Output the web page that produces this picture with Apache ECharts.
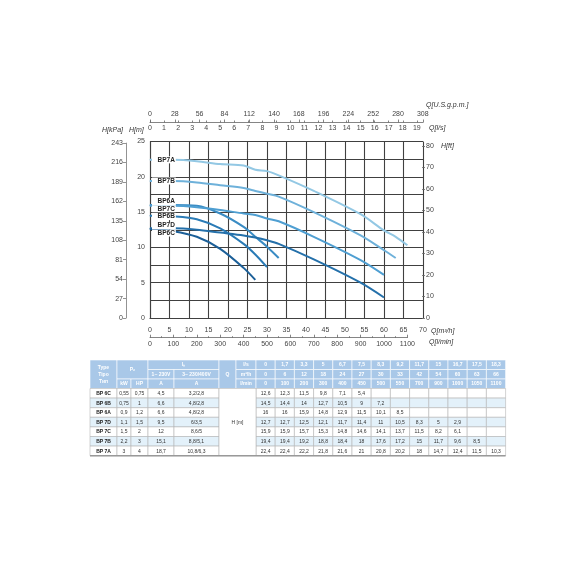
<!DOCTYPE html>
<html><head><meta charset="utf-8">
<script src="https://cdn.jsdelivr.net/npm/echarts@6/dist/echarts.min.js"></script>
<style>html,body{margin:0;padding:0;background:#fff}#c{width:570px;height:570px}</style>
</head><body><div id="c"></div>
<script>
// ---------- data ----------
const flowM3h = [0, 6, 12, 18, 24, 27, 30, 33, 42, 54, 60, 63, 66];
const flowLs = ['0', '1,7', '3,3', '5', '6,7', '7,5', '8,3', '9,2', '11,7', '15', '16,7', '17,5', '18,3'];
const flowLmin = ['0', '100', '200', '300', '400', '450', '500', '550', '700', '900', '1000', '1050', '1100'];

const curveNames = ['BP7A', 'BP7B', 'BP6A', 'BP7C', 'BP6B', 'BP7D', 'BP6C'];
const headBP7A = [22.4, 22.4, 22.2, 21.8, 21.6, 21, 20.8, 20.2, 18, 14.7, 12.4, 11.5, 10.3];
const headBP7B = [19.4, 19.4, 19.2, 18.8, 18.4, 18, 17.6, 17.2, 15, 11.7, 9.6, 8.5];
const headBP6A = [16, 16, 15.9, 14.8, 12.9, 11.5, 10.1, 8.5];
const headBP7C = [15.9, 15.9, 15.7, 15.3, 14.8, 14.6, 14.1, 13.7, 11.5, 8.2, 6.1];
const headBP6B = [14.5, 14.4, 14, 12.7, 10.5, 9, 7.2];
const headBP7D = [12.7, 12.7, 12.5, 12.1, 11.7, 11.4, 11, 10.5, 8.3, 5, 2.9];
const headBP6C = [12.6, 12.3, 11.5, 9.8, 7.1, 5.4];

const tableTypes = ['BP 6C', 'BP 6B', 'BP 6A', 'BP 7D', 'BP 7C', 'BP 7B', 'BP 7A'];
const tableKW = ['0,55', '0,75', '0,9', '1,1', '1,5', '2,2', '3'];
const tableHP = ['0,75', '1', '1,2', '1,5', '2', '3', '4'];
const tableAmp1 = ['4,5', '6,6', '6,6', '9,5', '12', '15,1', '18,7'];
const tableAmp3 = ['3,2/2,8', '4,8/2,8', '4,8/2,8', '6/3,5', '8,6/5', '8,8/5,1', '10,8/6,3'];
const tableHeads = [headBP6C, headBP6B, headBP6A, headBP7D, headBP7C, headBP7B, headBP7A];

// ---------- styling ----------
const FONT = '"Liberation Sans", Arial, sans-serif';
const GRIDC = '#404040';
const LABC = '#444';
const curveHeads = {BP7A: headBP7A, BP7B: headBP7B, BP6A: headBP6A, BP7C: headBP7C, BP6B: headBP6B, BP7D: headBP7D, BP6C: headBP6C};
const curveColors = {BP7A: '#93c8e4', BP7B: '#6eb1da', BP6A: '#3a8cc4', BP7C: '#4f9fd2', BP6B: '#2a7bb6', BP7D: '#2470aa', BP6C: '#1b5f98'};
const labelShift = {BP7A: 0, BP7B: 0, BP6A: -3.5, BP7C: 3, BP6B: 1, BP7D: -2.8, BP6C: 4};

const plain = (v) => String(v);
const lbl = (extra) => Object.assign({fontSize: 7, color: LABC, fontFamily: FONT, formatter: plain}, extra || {});
const hiddenAxis = (g) => ({gridIndex: g, type: 'value', show: false, min: 0, max: 1});

const series = curveNames.map((name) => {
  const h = curveHeads[name];
  const data = h.map((v, i) => {
    if (i === 0) {
      return {
        value: [flowM3h[i], v], symbol: 'circle', symbolSize: 1,
        label: {show: true, position: 'right', distance: 1.5, offset: [0, labelShift[name]],
          formatter: name, fontSize: 6.5, fontWeight: 'bold', color: '#222', fontFamily: FONT,
          backgroundColor: '#fff', padding: [0, 1, 0, 5.5]}
      };
    }
    return [flowM3h[i], v];
  });
  return {
    type: 'line', name: name, xAxisIndex: 0, yAxisIndex: 0, data: data,
    smooth: 0.3, symbol: 'none', showSymbol: true, silent: true,
    lineStyle: {color: curveColors[name], width: 2}, itemStyle: {color: curveColors[name]},
    z: 3
  };
});

// ---------- table (drawn with graphic) ----------
const graphics = [];
const colX = [90, 117, 131, 148, 174, 219, 236, 256];
for (let j = 1; j <= flowM3h.length; j++) colX.push(256 + j * 19.2);
const rowY = [360, 369.5, 379, 388.5];
for (let r = 1; r <= tableTypes.length; r++) rowY.push(388.5 + r * 9.6);
const HEADFILL = '#a9c8e8';
const STRIPE = '#e3f1fa';
function cell(c0, c1, r0, r1, text, o) {
  o = o || {};
  const x = colX[c0], y = rowY[r0], w = colX[c1] - colX[c0], h = rowY[r1] - rowY[r0];
  graphics.push({type: 'rect', shape: {x: x, y: y, width: w, height: h}, silent: true,
    style: {fill: o.fill || '#fff', stroke: o.stroke || '#b5b5b5', lineWidth: 0.6}, z: 10});
  if (text !== '' && text != null) {
    graphics.push({type: 'text', silent: true, z: 11,
      style: {text: text, x: x + w / 2, y: y + h / 2 + 0.3, align: 'center', verticalAlign: 'middle',
        fill: o.color || '#333', font: (o.bold ? 'bold ' : '') + (o.size || 5) + 'px ' + FONT,
        lineHeight: o.lh || 6}});
  }
}
const hdr = {fill: HEADFILL, stroke: '#ffffff', color: '#ffffff', bold: true};
cell(0, 1, 0, 3, 'Type\nTipo\nTип', Object.assign({lh: 7}, hdr));
cell(1, 3, 0, 2, 'P₂', hdr);
cell(3, 5, 0, 1, 'Iₙ', hdr);
cell(3, 4, 1, 2, '1~ 230V', hdr);
cell(4, 5, 1, 2, '3~ 230/400V', hdr);
cell(1, 2, 2, 3, 'kW', hdr);
cell(2, 3, 2, 3, 'HP', hdr);
cell(3, 4, 2, 3, 'A', hdr);
cell(4, 5, 2, 3, 'A', hdr);
cell(5, 6, 0, 3, 'Q', hdr);
cell(6, 7, 0, 1, 'l/s', hdr);
cell(6, 7, 1, 2, 'm³/h', hdr);
cell(6, 7, 2, 3, 'l/min', hdr);
for (let j = 0; j < flowM3h.length; j++) {
  cell(7 + j, 8 + j, 0, 1, flowLs[j], hdr);
  cell(7 + j, 8 + j, 1, 2, String(flowM3h[j]), hdr);
  cell(7 + j, 8 + j, 2, 3, flowLmin[j], hdr);
}
for (let i = 0; i < tableTypes.length; i++) {
  const r = 3 + i;
  const fill = i % 2 === 1 ? STRIPE : '#fff';
  cell(0, 1, r, r + 1, tableTypes[i], {fill: fill, bold: true, color: '#222'});
  cell(1, 2, r, r + 1, tableKW[i], {fill: fill});
  cell(2, 3, r, r + 1, tableHP[i], {fill: fill});
  cell(3, 4, r, r + 1, tableAmp1[i], {fill: fill});
  cell(4, 5, r, r + 1, tableAmp3[i], {fill: fill});
  for (let j = 0; j < flowM3h.length; j++) {
    const v = tableHeads[i][j];
    cell(7 + j, 8 + j, r, r + 1, v == null ? '' : String(v).replace('.', ','), {fill: fill});
  }
}
cell(5, 7, 3, 3 + tableTypes.length, 'H [m]', {fill: '#fff'});
graphics.push({type: 'line', silent: true, z: 12,
  shape: {x1: colX[0], y1: rowY[rowY.length - 1], x2: colX[colX.length - 1], y2: rowY[rowY.length - 1]},
  style: {stroke: '#999', lineWidth: 1.4}});

// axis titles
const title = (t, x, y) => graphics.push({type: 'text', silent: true, z: 20,
  style: {text: t, x: x, y: y, align: 'left', verticalAlign: 'middle', fill: '#333', font: 'italic 7px ' + FONT}});
title('H[kPa]', 102, 130.5);
title('H[m]', 129, 130.5);
title('Q[U.S.g.p.m.]', 426, 105.5);
title('Q[l/s]', 429, 128.5);
title('H[ft]', 441, 146);
title('Q[m³/h]', 431, 331);
title('Q[l/min]', 429, 342);

const chart = echarts.init(document.getElementById('c'), null, {renderer: 'canvas'});
chart.setOption({
  animation: false,
  backgroundColor: '#fff',
  grid: [
    {left: 150, top: 141.5, width: 273, height: 176.5, outerBoundsMode: 'none'},
    {left: 126, top: 143.1, width: 1, height: 174.9, outerBoundsMode: 'none'},
    {left: 422, top: 145.9, width: 1, height: 172.1, outerBoundsMode: 'none'},
    {left: 150, top: 121.5, width: 272.8, height: 1, outerBoundsMode: 'none'},
    {left: 150, top: 121.5, width: 266.8, height: 1, outerBoundsMode: 'none'},
    {left: 150, top: 336.7, width: 257.4, height: 1, outerBoundsMode: 'none'}
  ],
  xAxis: [
    {gridIndex: 0, type: 'value', min: 0, max: 70, interval: 5, position: 'bottom',
      axisLine: {show: true, lineStyle: {color: GRIDC, width: 1.1}}, axisTick: {show: false},
      splitLine: {show: true, lineStyle: {color: GRIDC, width: 1.1}},
      axisLabel: lbl({margin: 9})},
    hiddenAxis(1),
    hiddenAxis(2),
    {gridIndex: 3, type: 'value', min: 0, max: 308, interval: 28, position: 'top',
      axisLine: {show: true, lineStyle: {color: '#666', width: 0.8}},
      axisTick: {show: true, length: 3, lineStyle: {color: '#666', width: 0.8}},
      minorTick: {show: false}, splitLine: {show: false},
      axisLabel: lbl({margin: 4})},
    {gridIndex: 4, type: 'value', min: 0, max: 19, interval: 1, position: 'bottom',
      axisLine: {show: false}, axisTick: {show: true, inside: true, length: 2, lineStyle: {color: '#666', width: 0.8}},
      splitLine: {show: false}, axisLabel: lbl({margin: 2})},
    {gridIndex: 5, type: 'value', min: 0, max: 1100, interval: 100, position: 'bottom',
      axisLine: {show: true, lineStyle: {color: '#666', width: 0.8}},
      axisTick: {show: true, inside: true, length: 3, lineStyle: {color: '#666', width: 0.8}},
      minorTick: {show: true, splitNumber: 2, length: 1.5, lineStyle: {color: '#666', width: 0.8}},
      splitLine: {show: false}, axisLabel: lbl({margin: 3})}
  ],
  yAxis: [
    {gridIndex: 0, type: 'value', min: 0, max: 25, interval: 5,
      axisLine: {show: true, lineStyle: {color: GRIDC, width: 1.1}}, axisTick: {show: false},
      splitLine: {show: true, lineStyle: {color: GRIDC, width: 1.1}},
      minorTick: {show: false, splitNumber: 2},
      minorSplitLine: {show: true, lineStyle: {color: GRIDC, width: 1.1}},
      axisLabel: lbl({margin: 5})},
    {gridIndex: 1, type: 'value', min: 0, max: 243, interval: 27, position: 'left',
      axisLine: {show: true, lineStyle: {color: '#777', width: 0.8}},
      axisTick: {show: true, length: 3, lineStyle: {color: '#777', width: 0.8}},
      splitLine: {show: false}, axisLabel: lbl({margin: 3})},
    {gridIndex: 2, type: 'value', min: 0, max: 80, interval: 10, position: 'right',
      axisLine: {show: false},
      axisTick: {show: true, length: 3, lineStyle: {color: '#666', width: 0.8}},
      splitLine: {show: false}, axisLabel: lbl({margin: 3})},
    hiddenAxis(3),
    hiddenAxis(4),
    hiddenAxis(5)
  ],
  series: series,
  graphic: graphics
});
</script>
</body></html>
